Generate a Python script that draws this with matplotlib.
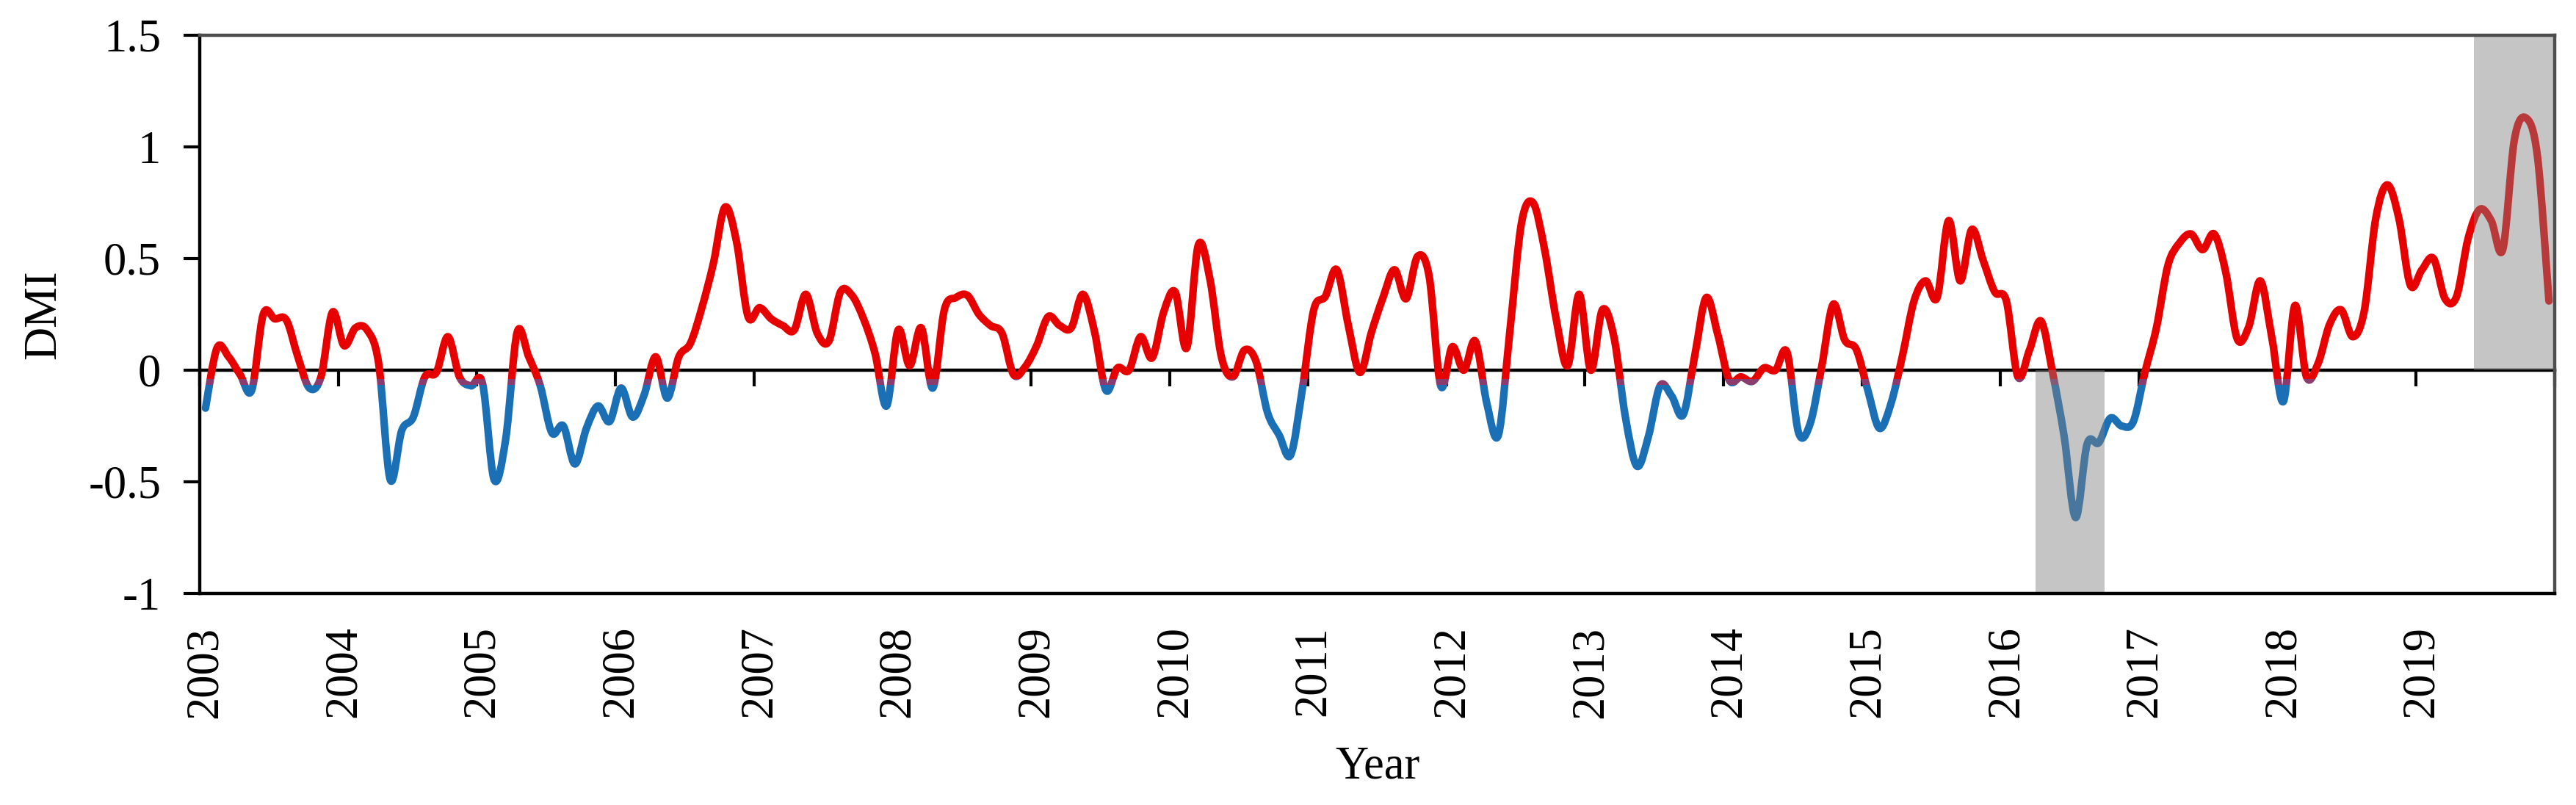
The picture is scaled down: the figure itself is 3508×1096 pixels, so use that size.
import numpy as np
import matplotlib
matplotlib.use("Agg")
import matplotlib.pyplot as plt
from matplotlib.path import Path
from matplotlib.patches import PathPatch, Rectangle

# ---------------- data (monthly DMI, Jan 2003 - Dec 2019) ----------------
years = list(range(2003, 2020))
dmi_2003 = [-0.17, 0.10, 0.06, -0.02, -0.09, 0.25, 0.23, 0.225, 0.06, -0.08, -0.03, 0.26]
dmi_2004 = [0.11, 0.19, 0.18, 0.03, -0.49, -0.27, -0.21, -0.03, -0.01, 0.15, -0.03, -0.07]
dmi_2005 = [-0.06, -0.49, -0.31, 0.17, 0.06, -0.07, -0.28, -0.25, -0.42, -0.26, -0.16, -0.23]
dmi_2006 = [-0.08, -0.21, -0.11, 0.06, -0.125, 0.06, 0.12, 0.28, 0.48, 0.73, 0.575, 0.24]
dmi_2007 = [0.28, 0.23, 0.20, 0.18, 0.34, 0.165, 0.13, 0.35, 0.335, 0.23, 0.075, -0.16]
dmi_2008 = [0.18, 0.02, 0.19, -0.08, 0.27, 0.325, 0.335, 0.25, 0.20, 0.165, -0.02, 0.015]
dmi_2009 = [0.11, 0.24, 0.20, 0.19, 0.34, 0.175, -0.09, 0.01, 0.0, 0.15, 0.055, 0.26]
dmi_2010 = [0.35, 0.10, 0.56, 0.41, 0.06, -0.03, 0.09, 0.04, -0.19, -0.29, -0.38, -0.09]
dmi_2011 = [0.27, 0.33, 0.45, 0.20, -0.01, 0.17, 0.325, 0.45, 0.32, 0.51, 0.42, -0.07]
dmi_2012 = [0.105, 0.0, 0.13, -0.15, -0.29, 0.18, 0.66, 0.75, 0.54, 0.23, 0.02, 0.34]
dmi_2013 = [0.0, 0.27, 0.15, -0.21, -0.43, -0.295, -0.07, -0.115, -0.20, 0.063, 0.325, 0.16]
dmi_2014 = [-0.045, -0.03, -0.05, 0.01, 0.0, 0.08, -0.28, -0.24, 0.015, 0.295, 0.135, 0.093]
dmi_2015 = [-0.09, -0.26, -0.15, 0.065, 0.31, 0.40, 0.325, 0.67, 0.40, 0.63, 0.49, 0.35]
dmi_2016 = [0.31, -0.03, 0.09, 0.22, -0.01, -0.295, -0.66, -0.33, -0.325, -0.215, -0.25, -0.23]
dmi_2017 = [-0.01, 0.19, 0.47, 0.57, 0.61, 0.54, 0.61, 0.44, 0.14, 0.195, 0.40, 0.145]
dmi_2018 = [-0.14, 0.29, -0.03, 0.03, 0.205, 0.27, 0.15, 0.265, 0.68, 0.83, 0.68, 0.38]
dmi_2019 = [0.45, 0.50, 0.32, 0.33, 0.59, 0.72, 0.67, 0.54, 1.03, 1.13, 0.96, 0.31]

# shaded periods (year, month) and the edge of the axis they reach
shade_neg_start, shade_neg_end, shade_neg_edge = (2016, 4), (2016, 9), -1.0
shade_pos_start, shade_pos_end, shade_pos_edge = (2019, 6), (2019, 12), 1.5

yticks = [-1, -0.5, 0, 0.5, 1, 1.5]
ytick_labels = ["-1", "-0.5", "0", "0.5", "1", "1.5"]

# ---------------- build ----------------
dmi = np.concatenate([dmi_2003, dmi_2004, dmi_2005, dmi_2006, dmi_2007, dmi_2008,
                      dmi_2009, dmi_2010, dmi_2011, dmi_2012, dmi_2013, dmi_2014,
                      dmi_2015, dmi_2016, dmi_2017, dmi_2018, dmi_2019])
n = len(dmi)
x = np.arange(n) + 0.5  # categories centred between monthly tick boundaries


def month_index(ym):
    return (ym[0] - years[0]) * 12 + ym[1] - 1


def smooth_path(xs, ys):
    """Excel-style smoothed line: cubic Bezier segments through every point."""
    pts = np.column_stack([xs, ys])
    verts = [pts[0]]
    codes = [Path.MOVETO]
    m = len(pts)
    for i in range(m - 1):
        p0 = pts[i - 1] if i > 0 else pts[i]
        p1 = pts[i]
        p2 = pts[i + 1]
        p3 = pts[i + 2] if i + 2 < m else pts[i + 1]
        c1 = p1 + (p2 - p0) / 6.0
        c2 = p2 - (p3 - p1) / 6.0
        verts += [c1, c2, p2]
        codes += [Path.CURVE4] * 3
    return Path(np.array(verts), codes)


plt.rcParams["font.family"] = ["Liberation Serif", "DejaVu Serif"]
FS = 45

fig = plt.figure(figsize=(35.08, 10.96), dpi=100)
left_px, right_px, top_px, bottom_px = 272, 3479, 48, 808
ax = fig.add_axes([left_px / 3508, 1 - bottom_px / 1096,
                   (right_px - left_px) / 3508, (bottom_px - top_px) / 1096])
ax.set_xlim(0, n)
ax.set_ylim(-1, 1.5)

path = smooth_path(x, dmi)
red, purple, blue = "#e60000", "#8a3c6e", "#1b6fb4"
zones = [(red, -0.04, 3.0), (purple, -0.065, 0.025), (blue, -3.0, 2.935)]
for col, y0, h in zones:
    patch = PathPatch(path, fill=False, edgecolor=col, lw=7.4,
                      capstyle="round", joinstyle="round", zorder=2)
    ax.add_patch(patch)
    clip = Rectangle((-5, y0), n + 10, h, transform=ax.transData)
    patch.set_clip_path(clip)

# shaded periods as bars
i0, i1 = month_index(shade_neg_start), month_index(shade_neg_end)
ax.bar(x[i0:i1 + 1], [shade_neg_edge] * (i1 - i0 + 1), width=1.0,
       color="#808080", alpha=0.45, linewidth=0, zorder=2.2)
j0, j1 = month_index(shade_pos_start), month_index(shade_pos_end)
ax.bar(x[j0:j1 + 1], [shade_pos_edge] * (j1 - j0 + 1), width=1.0,
       color="#808080", alpha=0.45, linewidth=0, zorder=2.2)

# y axis
ax.set_yticks(yticks)
ax.set_yticklabels(ytick_labels)
ax.tick_params(axis="y", direction="out", length=16, width=3, pad=22,
               labelsize=FS, color="black")

# x labels at the bottom (category of each January)
year_pos = [x[(yy - years[0]) * 12] for yy in years]
ax.set_xticks(year_pos)
ax.set_xticklabels([str(yy) for yy in years], rotation=90)
ax.tick_params(axis="x", length=0, pad=32, labelsize=FS)

# zero line with yearly tick marks
zero_frac = (0 - (-1)) / (1.5 - (-1))
sec = ax.secondary_xaxis(zero_frac)
sec.set_xticks(np.arange(0, n + 1, 12))
sec.set_xticklabels([])
sec.tick_params(axis="x", direction="out", length=16, width=3, color="black")
sec.spines["bottom"].set_linewidth(3.2)
sec.spines["bottom"].set_color("black")

for side in ["top", "right"]:
    ax.spines[side].set_color("#4d4d4d")
    ax.spines[side].set_linewidth(3.2)
for side in ["left", "bottom"]:
    ax.spines[side].set_color("black")
    ax.spines[side].set_linewidth(3.2)

fig.text(60 / 3508, 1 - 428 / 1096, "DMI", rotation=90, ha="center", va="center",
         fontsize=FS)
fig.text((left_px + right_px) / 2 / 3508, 1 - 1045 / 1096, "Year", ha="center",
         va="center", fontsize=FS)

fig.savefig("out.png", dpi=100, facecolor="white")
